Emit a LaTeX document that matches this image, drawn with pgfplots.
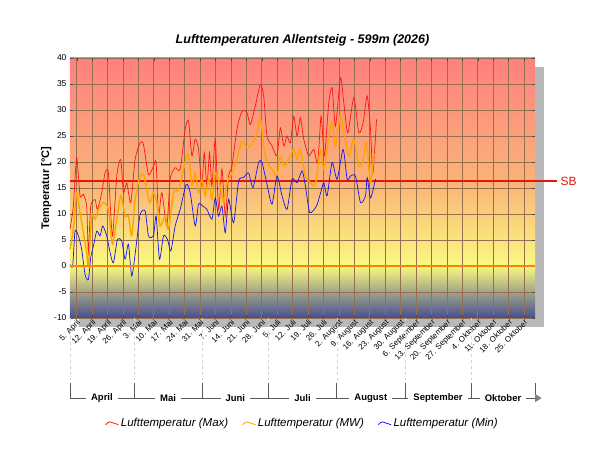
\documentclass[border=0pt]{standalone}
\usepackage{pgfplots}
\pgfplotsset{compat=1.18}
\usepackage{pgfplotstable}
\usepackage{fontspec}
\setmainfont{Liberation Sans}
\pgfplotstableread{
zx y
30 7.1
40 11.5
50 20.8
60 13.5
70 13.8
80 11.5
85 2.6
92 11.5
105 12.8
112 10.9
125 14.1
135 17.9
145 17.9
157 5.8
170 17.3
182 20.5
190 14.1
200 16
212 12.2
225 20.5
240 23.7
250 23.4
265 17.6
280 19.2
288 19.9
295 9.6
305 14.1
320 7.7
330 16.7
345 18.9
360 18.6
375 26.3
385 27.9
395 21.2
405 24.4
415 22.4
425 15.4
432 21.8
440 15.4
448 21.8
455 15.4
465 24.4
475 10.9
485 18.6
495 9.6
505 17.3
515 19.2
530 26.3
545 29.8
560 29.5
570 27.2
585 30.8
600 34.9
610 32.7
620 25
635 23.1
650 21.2
660 26.6
670 23.1
680 25
690 23.7
700 28.8
710 25
720 28.5
730 24.4
745 21.2
760 22.4
772 19.9
782 28.8
792 21.2
805 31.4
815 34.3
825 26.9
840 36.2
850 31.4
862 25.6
880 32.4
895 25.6
908 27.6
920 32.7
930 26.3
937 17.9
948 28.2
}\tmax
\pgfplotstableread{
zx y
30 3.2
40 7.1
50 14.1
60 10.3
70 6.4
80 2.6
85 0
95 9.6
105 9
115 10.9
130 12.2
145 10.9
157 4.2
170 9
182 13.5
195 9.6
205 9.6
215 5.8
225 12.8
240 17.3
252 17.3
268 12.2
280 14.1
290 12.2
300 7.7
315 9.6
325 7.1
340 14.1
355 14.7
375 19.9
385 21.5
395 15.4
405 17.9
415 14.1
425 16.7
435 13.5
445 16.7
455 12.8
465 17.9
480 15.4
490 12.2
500 16
515 17.9
530 20.5
545 24
560 22.8
575 23.4
590 25.6
600 28.5
610 23.1
620 19.9
635 18.6
650 17.3
660 21.2
672 19.2
685 20.5
700 22.4
710 20.5
720 22.4
735 17.3
750 16
765 15.7
780 22.4
790 18.6
805 25
815 27.6
825 23.1
840 29.2
850 25.6
865 21.2
880 24.4
895 19.2
908 20.5
918 23.7
930 16
940 21.2
948 21.5
}\tmw
\pgfplotstableread{
zx y
30 0.3
38 0
45 6.7
55 5.8
65 3.2
75 -1.6
85 -2.6
92 1.6
100 3.8
110 6.7
120 5.8
128 7.7
140 5.8
150 2.6
160 0.6
172 5.1
185 4.8
195 1.3
205 4.2
215 -1.9
228 3.8
240 9.9
255 10.6
265 5.8
280 5.8
288 9.6
298 1.3
310 5.8
322 5.1
332 2.9
345 7.7
360 10.9
378 15.7
390 14.1
405 7.7
415 11.9
428 11.5
440 10.9
455 9
465 13.1
475 9.6
485 11.5
495 6.4
505 12.8
520 8.3
535 16.3
550 17
565 17.9
578 15.1
595 19.9
605 19.9
620 15.7
635 11.9
650 17.3
665 13.5
680 10.9
695 16.7
710 16
725 18.3
735 15.4
748 10.3
768 11.5
778 13.5
790 16
800 13.5
815 19.9
830 16.7
848 22.4
860 16.7
870 17.3
885 17.3
900 12.2
915 13.5
920 17
930 13.1
945 16.7
}\tmin
\definecolor{cmax}{RGB}{255,20,20}
\definecolor{cmw}{RGB}{255,165,0}
\definecolor{cmin}{RGB}{20,20,240}
\definecolor{csb}{RGB}{225,25,10}
\definecolor{czero}{RGB}{255,130,0}
\newcommand\mon[4]{%
  \draw[gray!35, dashed, line width=0.3pt] (axis cs:#1,-10) -- (axis cs:#1,-22);
  \draw[gray!70!black, line width=0.4pt] (axis cs:#1,-22.5) -- (axis cs:#1,-25.4) -- (axis cs:#2,-25.4) -- (axis cs:#2,-22.5);
  \node[fill=white, font=\bfseries\fontsize{9.5}{11}\selectfont, inner xsep=5pt] at (axis cs:#3,-25.4) {#4};}
\begin{document}
\begin{tikzpicture}
\fill[gray!55] (9pt,-9pt) rectangle (474pt,251pt);
\fill[top color={rgb,255:red,255;green,128;blue,128}, bottom color={rgb,255:red,250;green,180;blue,120}] (0pt,260pt) rectangle (465pt,135.2pt);
\fill[top color={rgb,255:red,250;green,180;blue,120}, bottom color={rgb,255:red,250;green,250;blue,128}] (0pt,135.2pt) rectangle (465pt,52pt);
\fill[top color={rgb,255:red,250;green,250;blue,128}, bottom color={rgb,255:red,70;green,78;blue,145}] (0pt,52pt) rectangle (465pt,0pt);
\begin{axis}[
  at={(0,0)}, anchor=south west,
  scale only axis, width=465pt, height=260pt,
  xmin=1, xmax=212, ymin=-10, ymax=40,
  clip=false,
  axis line style={draw=none},
  ytick={-10,-5,...,40},
  xtick={4,11,...,207},
  xticklabels={5. April,12. April,19. April,26. April,3. Mai,10. Mai,17. Mai,24. Mai,31. Mai,7. Juni,14. Juni,21. Juni,28. Juni,5. Juli,12. Juli,19. Juli,26. Juli,2. August,9. August,16. August,23. August,30. August,6. September,13. September,20. September,27. September,4. Oktober,11. Oktober,18. Oktober,25. Oktober},
  xticklabel style={rotate=45, anchor=north east, font=\fontsize{8}{8}\selectfont, inner sep=0.5pt},
  yticklabel style={font=\fontsize{8.5}{9}\selectfont},
  /pgf/number format/assume math mode=true,
  tick style={draw=black!70},
  major tick length=3pt,
  grid=major,
  major grid style={draw={rgb,255:red,150;green,110;blue,80}, line width=0.6pt},
  ylabel={\textbf{Temperatur [°C]}},
  ylabel style={font=\fontsize{11}{13}\selectfont, yshift=-4pt},
  title={\textbf{\textit{Lufttemperaturen Allentsteig - 599m (2026)}}},
  title style={font=\fontsize{12.5}{14}\selectfont, yshift=2pt},
  legend columns=3,
  legend style={at={(0.5,-0.37)}, anchor=north, draw=none, fill=none,
    font=\itshape\fontsize{11.5}{13}\selectfont, /tikz/every even column/.append style={column sep=12pt}},
]
\addplot[color=csb, line width=1.6pt, forget plot] coordinates {(1,16.3) (222,16.3)};
\node[right, text=csb, font=\fontsize{12}{14}\selectfont] at (axis cs:222,16.3) {SB};
\addplot[draw=cmax, line width=0.7pt, smooth, tension=0.4,
  legend image code/.code={\draw[draw=cmax, line width=0.8pt] (0cm,-0.05cm) sin (0.15cm,0.05cm) cos (0.3cm,0cm) sin (0.45cm,-0.05cm);}]
  table[x expr=\thisrow{zx}/6.6-3.545, y=y] {\tmax};
\addlegendentry{Lufttemperatur (Max)}
\addplot[draw=cmw, line width=1.4pt, smooth, tension=0.4,
  legend image code/.code={\draw[draw=cmw, line width=0.8pt] (0cm,-0.05cm) sin (0.15cm,0.05cm) cos (0.3cm,0cm) sin (0.45cm,-0.05cm);}]
  table[x expr=\thisrow{zx}/6.6-3.545, y=y] {\tmw};
\addlegendentry{Lufttemperatur (MW)}
\addplot[draw=cmin, line width=0.7pt, smooth, tension=0.4,
  legend image code/.code={\draw[draw=cmin, line width=0.8pt] (0cm,-0.05cm) sin (0.15cm,0.05cm) cos (0.3cm,0cm) sin (0.45cm,-0.05cm);}]
  table[x expr=\thisrow{zx}/6.6-3.545, y=y] {\tmin};
\addlegendentry{Lufttemperatur (Min)}
\addplot[color=czero, line width=1.3pt, forget plot] coordinates {(1,0) (212,0)};
\mon{1}{30}{15.5}{April}
\mon{30}{61}{45.5}{Mai}
\mon{61}{91}{76}{Juni}
\mon{91}{122}{106.5}{Juli}
\mon{122}{153}{137.5}{August}
\mon{153}{183}{168}{September}
\mon{183}{212}{197.5}{Oktober}
\fill[gray] (axis cs:212,-24.6) -- (axis cs:215,-25.4) -- (axis cs:212,-26.2) -- cycle;
\end{axis}
\useasboundingbox (-70pt,-132pt) rectangle (530pt,318pt);
\end{tikzpicture}
\end{document}
